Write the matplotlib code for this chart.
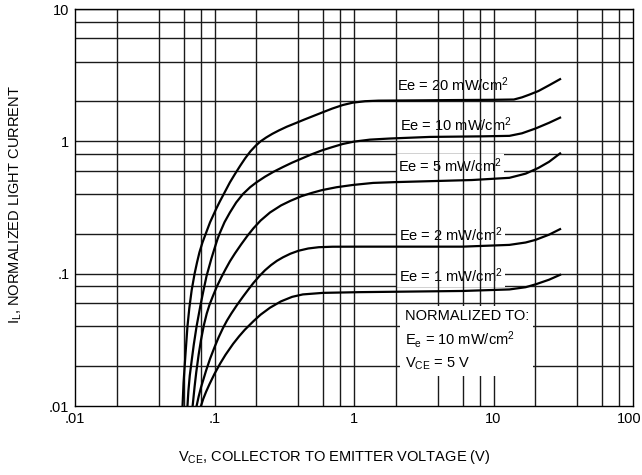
import matplotlib
matplotlib.use("Agg")
import matplotlib.pyplot as plt
import matplotlib.transforms as mtransforms

plt.rcParams['font.family'] = ['Liberation Sans', 'DejaVu Sans']
plt.rcParams['mathtext.fontset'] = 'custom'
plt.rcParams['mathtext.rm'] = 'Liberation Sans'
plt.rcParams['mathtext.it'] = 'Liberation Sans'
plt.rcParams['mathtext.bf'] = 'Liberation Sans:bold'
plt.rcParams['mathtext.default'] = 'rm'

# %% Data (VCE in volts, normalized light current)
vce_20 = [0.059, 0.060, 0.062, 0.064, 0.066, 0.0686, 0.072, 0.075, 0.078, 0.082, 0.088,
          0.093, 0.097, 0.103, 0.109, 0.118, 0.129, 0.14, 0.153, 0.166, 0.181, 0.197,
          0.214, 0.235, 0.26, 0.29, 0.33, 0.38, 0.44, 0.5, 0.59, 0.7, 0.83, 0.98, 1.2,
          1.5, 3, 5, 10, 14, 16, 18, 21, 25, 30]
il_20 = [0.01, 0.015, 0.025, 0.04, 0.055, 0.075, 0.1, 0.122, 0.145, 0.172, 0.21,
         0.245, 0.27, 0.31, 0.35, 0.41, 0.49, 0.565, 0.655, 0.745, 0.84, 0.925,
         1.0, 1.07, 1.14, 1.21, 1.29, 1.37, 1.46, 1.54, 1.65, 1.77, 1.88, 1.96, 2.01,
         2.03, 2.04, 2.05, 2.06, 2.07, 2.15, 2.25, 2.4, 2.65, 2.95]

vce_10 = [0.064, 0.065, 0.0665, 0.0686, 0.071, 0.0744, 0.0794, 0.083, 0.0877, 0.095, 0.1,
          0.105, 0.109, 0.118, 0.129, 0.143, 0.16, 0.18, 0.2, 0.23, 0.266, 0.31, 0.36,
          0.42, 0.5, 0.59, 0.7, 0.83, 1.0, 1.3, 1.8, 3.5, 8, 13, 16, 20, 25, 30]
il_10 = [0.01, 0.013, 0.017, 0.022, 0.029, 0.04, 0.058, 0.073, 0.096, 0.13, 0.155,
         0.182, 0.202, 0.245, 0.29, 0.345, 0.40, 0.45, 0.49, 0.54, 0.59, 0.64, 0.69,
         0.74, 0.80, 0.855, 0.905, 0.955, 0.995, 1.03, 1.05, 1.08, 1.09, 1.10, 1.15,
         1.25, 1.38, 1.51]

vce_5 = [0.0697, 0.072, 0.074, 0.077, 0.080, 0.084, 0.088, 0.092, 0.097, 0.104, 0.112,
         0.12, 0.129, 0.14, 0.155, 0.172, 0.19, 0.214, 0.25, 0.30, 0.35, 0.42, 0.5,
         0.59, 0.75, 0.98, 1.37, 2, 3.5, 7, 13, 17, 21, 25, 30]
il_5 = [0.01, 0.014, 0.018, 0.0245, 0.0315, 0.041, 0.05, 0.058, 0.067, 0.080, 0.094,
        0.108, 0.124, 0.142, 0.166, 0.193, 0.22, 0.252, 0.29, 0.328, 0.355, 0.385, 0.408,
        0.428, 0.45, 0.468, 0.485, 0.492, 0.50, 0.51, 0.53, 0.57, 0.63, 0.70, 0.81]

vce_2 = [0.0744, 0.077, 0.080, 0.087, 0.093, 0.10, 0.107, 0.115, 0.123, 0.132, 0.145,
         0.16, 0.175, 0.19, 0.21, 0.23, 0.254, 0.28, 0.31, 0.35, 0.40, 0.47, 0.56, 0.7,
         1.16, 6, 13, 17, 20, 25, 30]
il_2 = [0.01, 0.0118, 0.0138, 0.0185, 0.0228, 0.0278, 0.033, 0.0388, 0.0443, 0.050, 0.058,
        0.067, 0.076, 0.085, 0.096, 0.106, 0.116, 0.125, 0.133, 0.1415, 0.149, 0.155,
        0.1585, 0.1598, 0.160, 0.160, 0.165, 0.172, 0.18, 0.197, 0.217]

vce_1 = [0.080, 0.083, 0.087, 0.092, 0.10, 0.11, 0.12, 0.136, 0.15, 0.165, 0.19,
         0.214, 0.25, 0.30, 0.36, 0.43, 0.6, 1.1, 6, 13, 17, 20, 25, 30]
il_1 = [0.01, 0.0113, 0.0128, 0.0146, 0.0175, 0.021, 0.0244, 0.0295, 0.0336, 0.0377, 0.0437,
        0.049, 0.0553, 0.0618, 0.0668, 0.0697, 0.0716, 0.0725, 0.074, 0.076, 0.079, 0.083,
        0.09, 0.098]

curves = [(vce_20, il_20), (vce_10, il_10), (vce_5, il_5), (vce_2, il_2), (vce_1, il_1)]

curve_labels = ['Ee = 20 mW/cm$^2$', 'Ee = 10 mW/cm$^2$', 'Ee = 5 mW/cm$^2$',
                'Ee = 2 mW/cm$^2$', 'Ee = 1 mW/cm$^2$']
label_x = [2.05, 2.12, 2.08, 2.1, 2.1]
label_y = [2.66, 1.34, 0.655, 0.197, 0.096]

grid_vals = [0.02, 0.04, 0.06, 0.08, 0.1, 0.2, 0.4, 0.6, 0.8, 1, 2, 4, 6, 8,
             10, 20, 40, 60, 80]
tick_vals = [0.01, 0.1, 1, 10, 100]
x_tick_labels = ['.01', '.1', '1', '10', '100']
y_tick_vals = [0.01, 0.1, 1, 10]
y_tick_labels = ['.01', '.1', '1', '10']

# %% Plot
fig = plt.figure(figsize=(6.42, 4.75), dpi=100)
ax = fig.add_axes([75 / 642, 1 - 406 / 475, 558 / 642, 397 / 475])
ax.set_xscale('log')
ax.set_yscale('log')
ax.set_xlim(0.01, 100)
ax.set_ylim(0.01, 10)

# horizontal lines sit under the curve labels, vertical lines over them
for g in grid_vals:
    ax.axhline(g, color='#1a1a1a', lw=1.0, zorder=1)
    ax.axvline(g, color='#1a1a1a', lw=1.0, zorder=3)

for (vx, vy) in curves:
    ax.plot(vx, vy, color='black', lw=1.6, zorder=5, solid_joinstyle='round')

for txt, tx, ty in zip(curve_labels, label_x, label_y):
    ax.text(tx, ty, txt, fontsize=10.5, ha='left', va='center', zorder=2,
            bbox=dict(facecolor='white', edgecolor='none', pad=1.5))

ax.text(2.31, 0.054, 'NORMALIZED TO:\nE$_e$ = 10 mW/cm$^2$\nV$_{CE}$ = 5 V',
        fontsize=10.5, ha='left', va='top', linespacing=1.4, zorder=4,
        bbox=dict(facecolor='white', edgecolor='none', pad=3))

ax.set_xticks(tick_vals)
ax.set_xticklabels(x_tick_labels)
ax.set_yticks(y_tick_vals)
ax.set_yticklabels(y_tick_labels)
ax.minorticks_off()
ax.tick_params(length=0, labelsize=10.5, pad=4)
for s in ax.spines.values():
    s.set_linewidth(1.0)
    s.set_zorder(6)

# keep the last x label inside the canvas
last_lbl = ax.get_xticklabels()[-1]
last_lbl.set_transform(last_lbl.get_transform() +
                       mtransforms.ScaledTranslation(-4 / 100, 0, fig.dpi_scale_trans))

fig.text(334 / 642, 1 - 457 / 475, 'V$_{CE}$, COLLECTOR TO EMITTER VOLTAGE (V)',
         fontsize=10.5, ha='center', va='center')
fig.text(16 / 642, 1 - 205 / 475, 'I$_L$, NORMALIZED LIGHT CURRENT',
         fontsize=10.5, ha='center', va='center', rotation=90)

fig.savefig('out.png', dpi=100)
